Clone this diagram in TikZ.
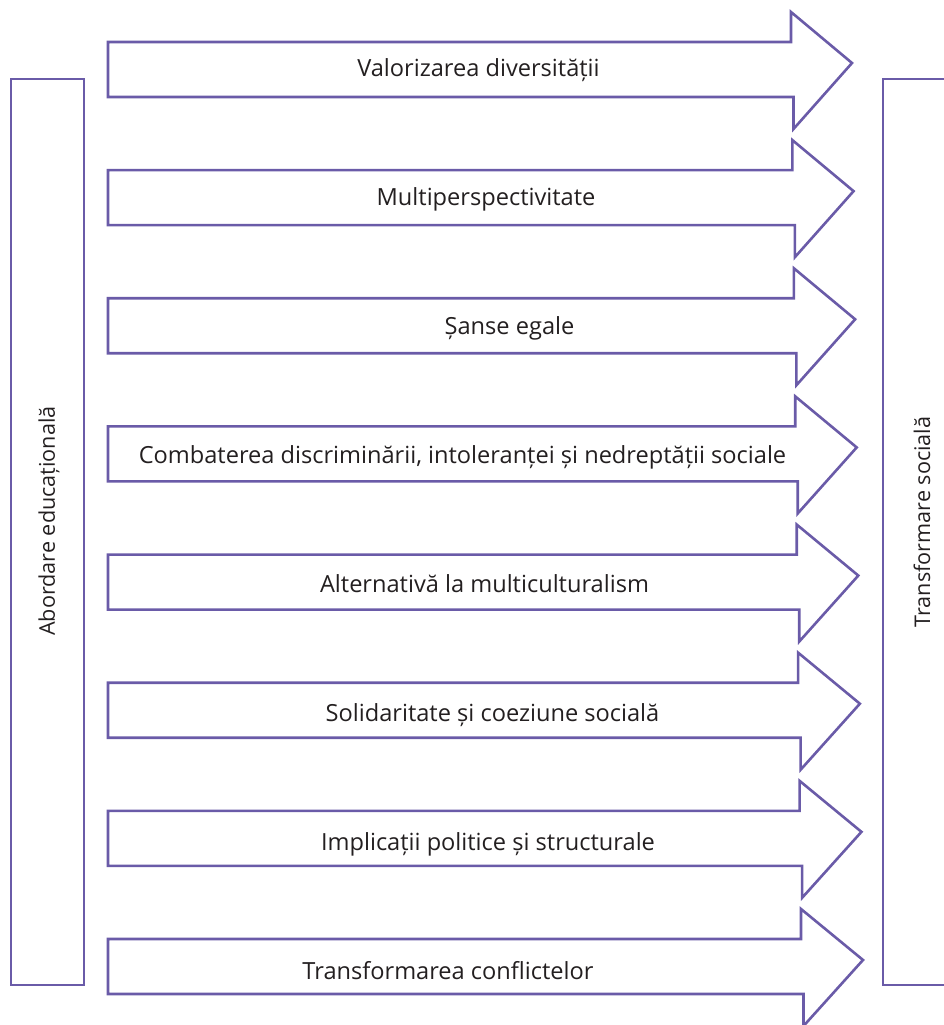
\documentclass[tikz,border=0pt]{standalone}
\usepackage{fontspec}
\setmainfont{Open Sans}
\definecolor{frame}{HTML}{6A5BA8}
\definecolor{ink}{HTML}{231F20}
\begin{document}
\begin{tikzpicture}[x=1pt,y=-1pt,
  outline/.style={draw=frame,line width=2.6pt,line join=miter},
  rowtext/.style={text=ink,font=\fontsize{23.6}{26}\selectfont,inner sep=0pt,anchor=base},
  sidetext/.style={text=ink,font=\fontsize{21.6}{24}\selectfont,inner sep=0pt,rotate=90}]
\useasboundingbox (0,0) rectangle (944,1025);
% side columns
\draw[outline] (11,79) rectangle (84,985);
\draw[outline] (883,79) rectangle (960,985);
\node[sidetext] (left) at (49,521) {Abordare educațională};
\node[sidetext] (right) at (922,522) {Transformare socială};
% arrow rows
\foreach \i/\cx/\txt in {
  0/478.5/{Valorizarea diversității},
  1/486/{Multiperspectivitate},
  2/509.5/{Șanse egale},
  3/462.5/{Combaterea discriminării, intoleranței și nedreptății sociale},
  4/484.5/{Alternativă la multiculturalism},
  5/492.5/{Solidaritate și coeziune socială},
  6/488/{Implicații politice și structurale},
  7/448/{Transformarea conflictelor}} {
  \pgfmathsetmacro\T{42+128.14*\i}
  \pgfmathsetmacro\nt{791+10*\i/7}
  \pgfmathsetmacro\nb{\nt+2.5}
  \pgfmathsetmacro\tx{852+11*\i/7}
  \draw[outline] (108,\T) -- (\nt,\T) -- (\nt,\T-30) -- (\tx,\T+21)
    -- (\nb,\T+87) -- (\nb,\T+55) -- (108,\T+55) -- cycle;
  \node[rowtext] (a\i) at (\cx,\T+35+0.857*\i) {\txt};
}
\end{tikzpicture}
\end{document}
